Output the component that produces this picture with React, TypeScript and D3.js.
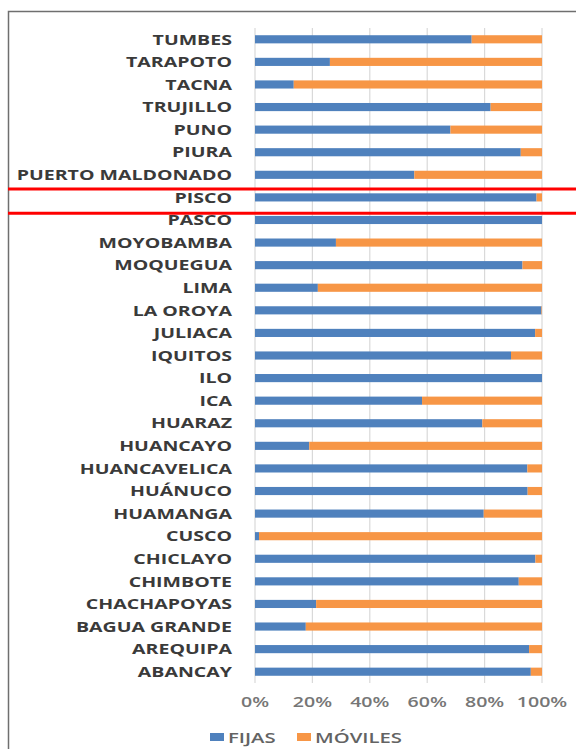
import React from "react";
import * as d3 from "d3";

// ciudades, de arriba hacia abajo
const cities = [
  "TUMBES", "TARAPOTO", "TACNA", "TRUJILLO", "PUNO", "PIURA", "PUERTO MALDONADO",
  "PISCO", "PASCO", "MOYOBAMBA", "MOQUEGUA", "LIMA", "LA OROYA", "JULIACA",
  "IQUITOS", "ILO", "ICA", "HUARAZ", "HUANCAYO", "HUANCAVELICA", "HUÁNUCO",
  "HUAMANGA", "CUSCO", "CHICLAYO", "CHIMBOTE", "CHACHAPOYAS", "BAGUA GRANDE",
  "AREQUIPA", "ABANCAY",
];

// % líneas fijas
const fijas = [
  75.5, 26.1, 13.5, 82.1, 68.1, 92.6, 55.5,
  98.1, 100, 28.2, 93.2, 21.9, 99.8, 97.6,
  89.2, 100, 58.2, 79.2, 18.9, 94.9, 95.0,
  79.7, 1.4, 97.7, 91.9, 21.3, 17.7,
  95.5, 96.1,
];

// % móviles = resto
const moviles = fijas.map(v => 100 - v);

const ticks = [0, 20, 40, 60, 80, 100];
const legend = [
  { label: "FIJAS", color: "#4f81bd" },
  { label: "MÓVILES", color: "#f79646" },
];
const highlighted = "PISCO";

const W = 576, H = 749;
const SX = 1.45; // el texto original está estirado en horizontal

export default function App() {
  const x = d3.scaleLinear().domain([0, 100]).range([255, 542]);
  const y = d3.scaleBand<string>()
    .domain(cities)
    .range([28, 683])
    .paddingInner(0.64)
    .paddingOuter(0.32);
  const bw = y.bandwidth();
  const hy = (y(highlighted) ?? 0) + bw / 2;

  return (
    <svg
      width={W}
      height={H}
      style={{ position: "absolute", left: 0, top: 0, background: "#fff" }}
    >
      <rect x={8.5} y={11.5} width={700} height={900} fill="none" stroke="#6f6f6f" strokeWidth={1.5} />

      {ticks.map(t => (
        <line key={t} x1={x(t)} x2={x(t)} y1={28} y2={683} stroke="#d9d9d9" strokeWidth={1.2} />
      ))}

      {cities.map((c, i) => {
        const yy = y(c) ?? 0;
        return (
          <g key={c}>
            <rect x={x(0)} y={yy} width={x(fijas[i]) - x(0)} height={bw} fill="#4f81bd" />
            <rect x={x(fijas[i])} y={yy} width={x(fijas[i] + moviles[i]) - x(fijas[i])} height={bw} fill="#f79646" />
            <text
              transform={`translate(232,${yy + bw / 2}) scale(${SX},1)`}
              textAnchor="end"
              dominantBaseline="central"
              fontFamily="'Open Sans', sans-serif"
              fontWeight={700}
              fontSize={13.5}
              fill="#3a3a3a"
            >
              {c}
            </text>
          </g>
        );
      })}

      {ticks.map(t => (
        <text
          key={"l" + t}
          transform={`translate(${x(t)},702) scale(${SX},1)`}
          textAnchor="middle"
          dominantBaseline="central"
          fontFamily="'Open Sans', sans-serif"
          fontWeight={600}
          fontSize={13.5}
          fill="#767676"
        >
          {t}%
        </text>
      ))}

      <line x1={8} x2={W} y1={hy - 8.5} y2={hy - 8.5} stroke="#ff0000" strokeWidth={3} />
      <line x1={8} x2={W} y1={hy + 15.8} y2={hy + 15.8} stroke="#ff0000" strokeWidth={3} />

      {legend.map((d, i) => {
        const lx = i === 0 ? 210 : 297;
        return (
          <g key={d.label}>
            <rect x={lx} y={733} width={14} height={8} fill={d.color} />
            <text
              transform={`translate(${lx + 18},737.5) scale(${SX},1)`}
              dominantBaseline="central"
              fontFamily="'Open Sans', sans-serif"
              fontWeight={600}
              fontSize={14}
              fill="#636363"
            >
              {d.label}
            </text>
          </g>
        );
      })}
    </svg>
  );
}
